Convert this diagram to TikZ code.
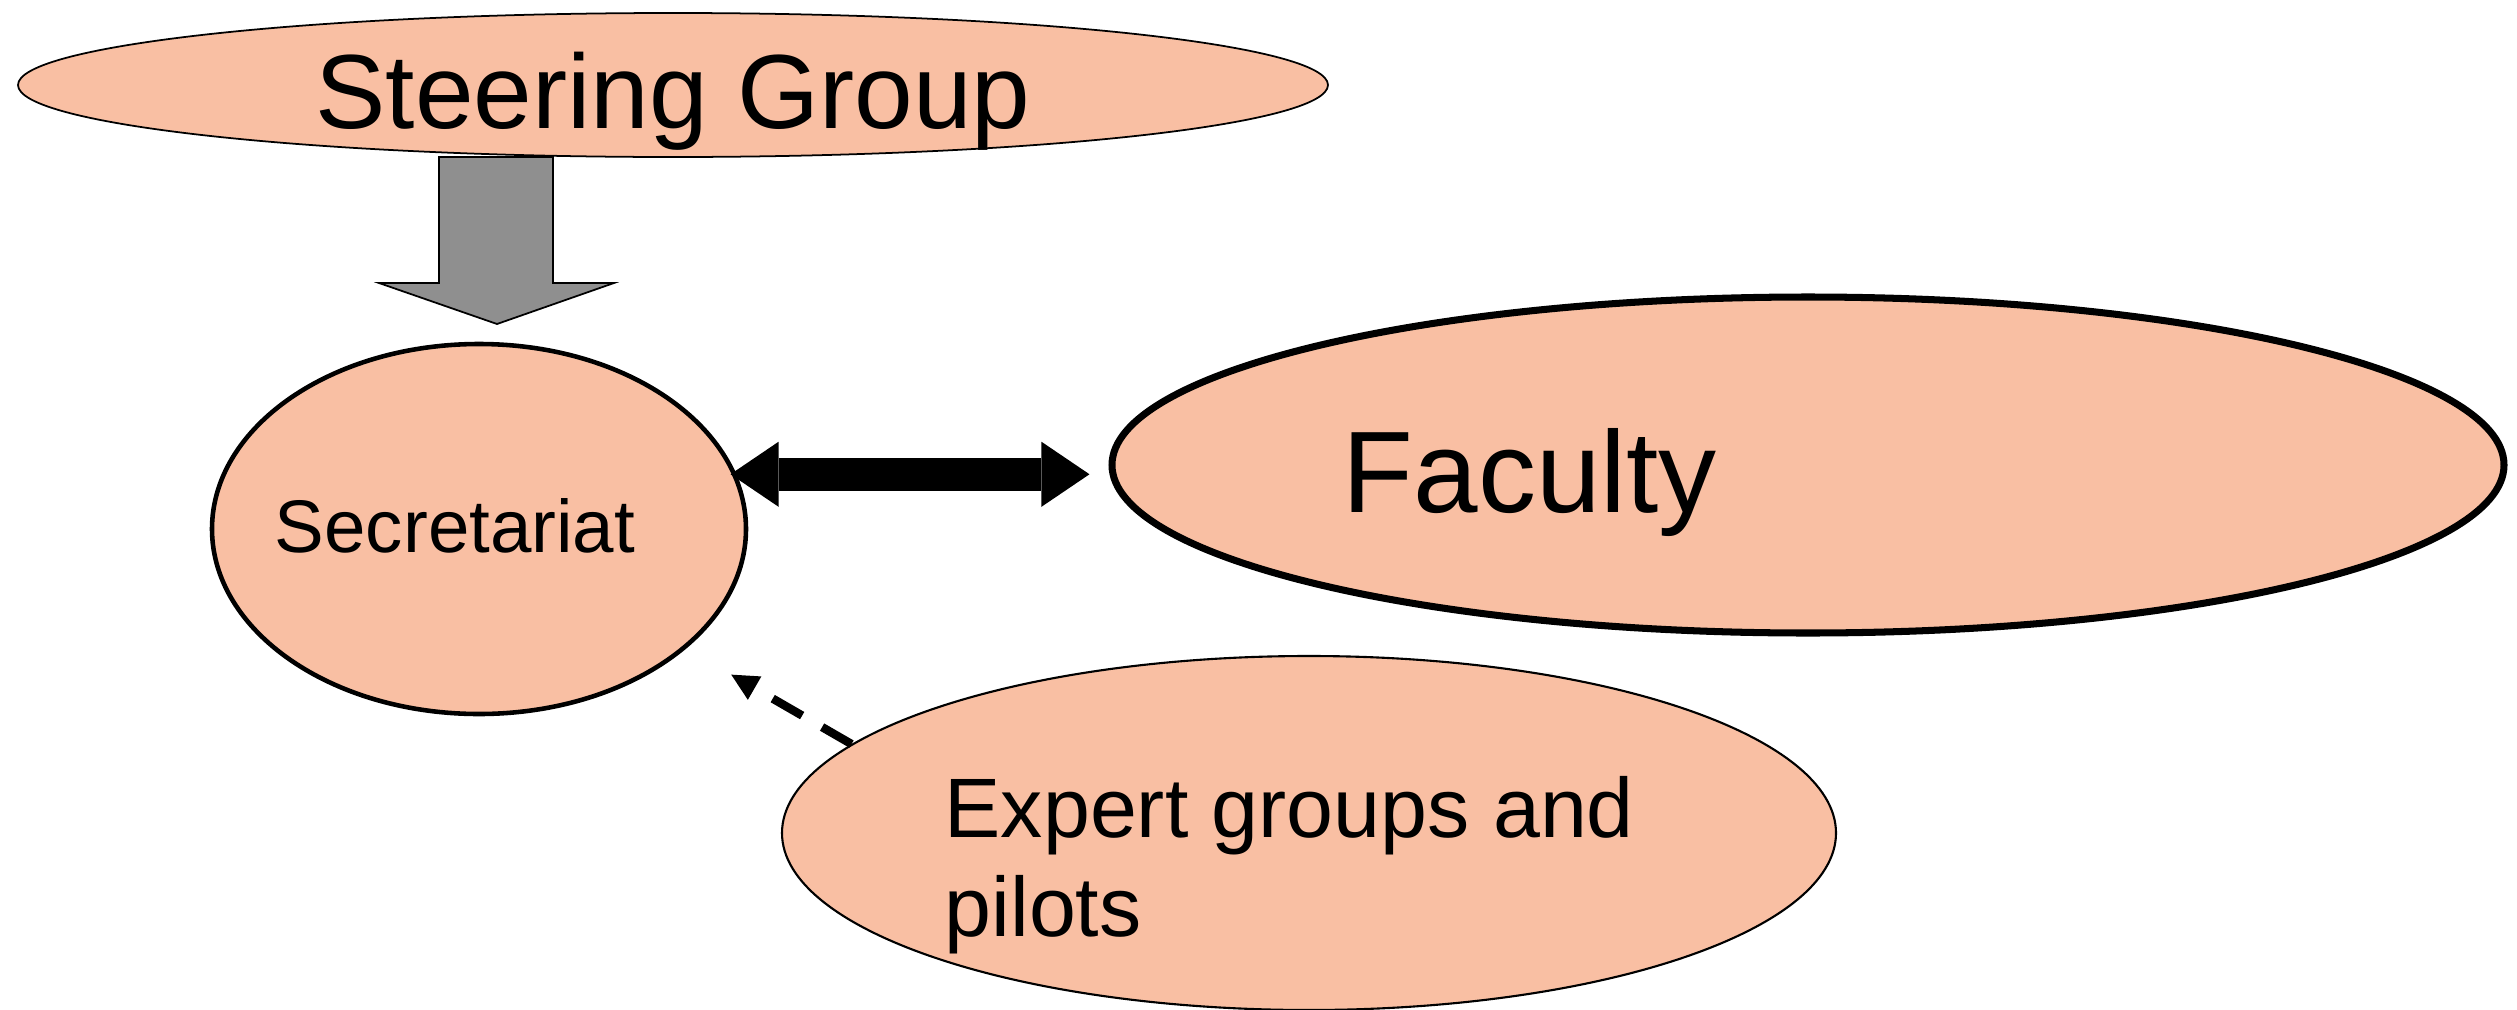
\documentclass[tikz,border=0pt]{standalone}
\usepackage{fontspec}
\setmainfont{Liberation Sans}
\usepackage{xcolor}
\usetikzlibrary{positioning}
\usetikzlibrary{arrows.meta}
\usetikzlibrary{shapes.geometric}
\definecolor{peach}{RGB}{249,191,163}
\definecolor{arrowgray}{RGB}{143,143,143}

\begin{document}
\begin{tikzpicture}[
  blob/.style={ellipse,draw=black,fill=peach,inner sep=0pt},
  lbl/.style={inner sep=0pt},
  both/.style={{Triangle[length=0.48cm,width=0.65cm,line width=0pt]}-{Triangle[length=0.48cm,width=0.65cm,line width=0pt]},line width=0.33cm},
  hint/.style={-{Triangle[length=0.27cm,width=0.27cm,line width=0pt]},line width=2.4pt,dash pattern=on 0.34cm off 0.23cm}
]
   \useasboundingbox (0,0) rectangle (25.17,10.09);
   \node[blob,line width=0.5pt,minimum width=13.1cm,minimum height=1.44cm] (steer) at (6.73,9.24) {};
   \node[blob,line width=1.3pt,minimum width=5.34cm,minimum height=3.7cm] (secr) at (4.79,4.80) {};
   \node[blob,line width=2pt,minimum width=13.92cm,minimum height=3.36cm] (fac) at (18.08,5.44) {};
   \node[blob,line width=0.6pt,minimum width=10.54cm,minimum height=3.54cm] (exp) at (13.09,1.76) {};

   \node[lbl,anchor=base,font=\fontsize{30}{36}\selectfont] (steer_t) at ([yshift=-0.43cm]steer.center) {Steering Group};
   \node[lbl,anchor=base,font=\fontsize{21.2}{25}\selectfont] (secr_t) at ([xshift=-0.24cm,yshift=-0.23cm]secr.center) {Secretariat};
   \node[lbl,anchor=base west,font=\fontsize{33}{39}\selectfont] (fac_t) at ([xshift=-4.66cm,yshift=-0.47cm]fac.center) {Faculty};
   \node[lbl,anchor=north west,align=left,font=\fontsize{24}{28.2}\selectfont] (exp_t) at ([xshift=-3.65cm,yshift=0.57cm]exp.center) {Expert groups and\\pilots};

   % block arrow from the steering group down
   \draw[fill=arrowgray,line width=0.5pt] (4.39,8.52) -- (5.53,8.52) -- (5.53,7.26) -- (6.14,7.26)
      -- (4.97,6.85) -- (3.79,7.26) -- (4.39,7.26) -- cycle;

   \draw[both] ([xshift=-0.06cm]secr.12) -- ([xshift=-0.19cm]secr.12 -| fac.west);
   \draw[hint,shorten >=0.52cm] (exp.169) -- (secr.-30);
\end{tikzpicture}
\end{document}
